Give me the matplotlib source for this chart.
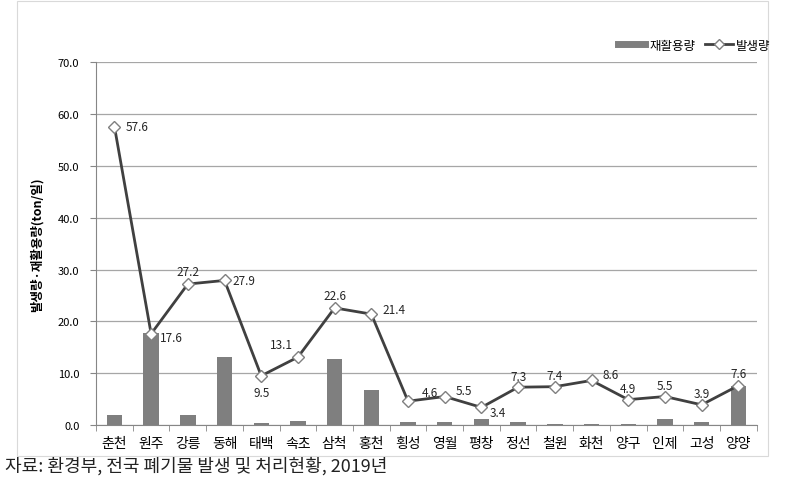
import matplotlib.pyplot as plt
from matplotlib.lines import Line2D
from matplotlib.patches import Rectangle

plt.rcParams['font.family'] = ['Noto Sans CJK KR', 'DejaVu Sans']

# 데이터
지역 = ["춘천", "원주", "강릉", "동해", "태백", "속초", "삼척", "홍천", "횡성",
      "영월", "평창", "정선", "철원", "화천", "양구", "인제", "고성", "양양"]
발생량 = [57.6, 17.6, 27.2, 27.9, 9.5, 13.1, 22.6, 21.4, 4.6,
       5.5, 3.4, 7.3, 7.4, 8.6, 4.9, 5.5, 3.9, 7.6]
재활용량 = [2.0, 17.8, 2.0, 13.2, 0.3, 0.7, 12.8, 6.7, 0.5,
        0.5, 1.2, 0.5, 0.2, 0.2, 0.2, 1.2, 0.5, 7.5]

# 라벨 위치 (포인트 단위 오프셋)
오프셋 = [(8, 0), (6, -3), (0, 9), (6, 0), (0, -12), (-12, 9), (0, 9), (8, 3), (10, 6),
       (8, 4), (6, -4), (0, 8), (0, 8), (8, 4), (0, 8), (0, 8), (0, 8), (0, 9)]
정렬 = ['left', 'left', 'center', 'left', 'center', 'center', 'center', 'left', 'left',
      'left', 'left', 'center', 'center', 'left', 'center', 'center', 'center', 'center']

fig = plt.figure(figsize=(7.94, 4.85), dpi=100)
ax = fig.add_axes([0.121, 0.1216, 0.832, 0.748])

# 차트 테두리
fig.patches.append(Rectangle((17 / 794, (485 - 457) / 485), (768 - 17) / 794, 455 / 485,
                             transform=fig.transFigure, fill=False,
                             edgecolor='#d9d9d9', linewidth=0.8))

x = range(len(지역))
ax.bar(x, 재활용량, width=0.42, color='#7f7f7f', zorder=2)
ax.plot(x, 발생량, color='#404040', linewidth=2, marker='D', markersize=6,
        markerfacecolor='white', markeredgecolor='#7f7f7f', markeredgewidth=1, zorder=3)

for i, v in enumerate(발생량):
    ax.annotate(f"{v:.1f}", (i, v), xytext=오프셋[i], textcoords='offset points',
                ha=정렬[i], va='center', fontsize=8.5, color='#262626', zorder=4)

ax.set_xlim(-0.5, len(지역) - 0.5)
ax.set_ylim(0, 70)
ax.set_yticks(range(0, 71, 10))
ax.set_yticklabels([f"{v:.1f}" for v in range(0, 71, 10)], fontsize=8)
ax.set_xticks(list(x))
ax.set_xticklabels(지역, fontsize=10)
ax.set_xticks([i - 0.5 for i in range(len(지역) + 1)], minor=True)
ax.tick_params(axis='x', which='major', length=0, pad=8)
ax.tick_params(axis='x', which='minor', length=4, color='#868686')
ax.tick_params(axis='y', length=4, color='#868686', pad=8)

ax.grid(axis='y', color='#a6a6a6', linewidth=0.9, zorder=0)
for s in ['top', 'right']:
    ax.spines[s].set_visible(False)
ax.spines['left'].set_color('#868686')
ax.spines['bottom'].set_color('#868686')

ax.set_ylabel("발생량·재활용량(ton/일)", fontsize=9, fontweight='bold', labelpad=10)

handles = [Line2D([0], [0], color='#7f7f7f', linewidth=5),
           Line2D([0], [0], color='#404040', linewidth=2, marker='D', markersize=5,
                  markerfacecolor='white', markeredgecolor='#7f7f7f')]
fig.legend(handles, ["재활용량", "발생량"], loc='center right', bbox_to_anchor=(0.985, 0.905),
           ncol=2, frameon=False, fontsize=9, handlelength=2.2, columnspacing=0.8,
           handletextpad=0.3)

fig.text(0.006, 0.028, "자료: 환경부, 전국 폐기물 발생 및 처리현황, 2019년", fontsize=13,
         color='#222222')

fig.savefig('out.png', dpi=100)
